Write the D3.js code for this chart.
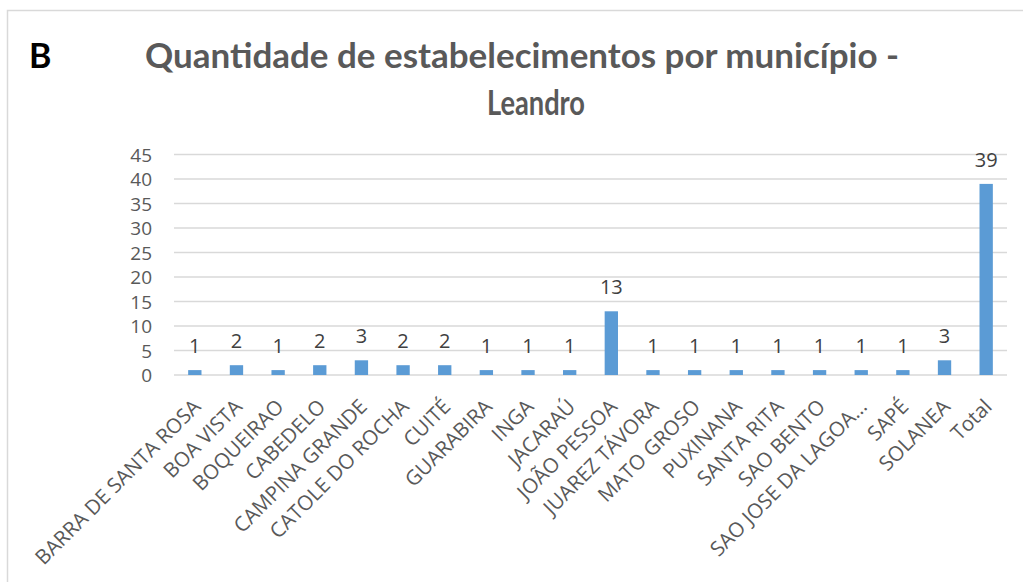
<!DOCTYPE html>
<html>
<head>
<meta charset="utf-8">
<script src="https://cdn.jsdelivr.net/npm/d3@7"></script>
<style>
  body { margin: 0; background: #fff; }
  svg { display: block; }
</style>
</head>
<body>
<svg id="chart" width="1023" height="582"></svg>
<script>
const categories = ["BARRA DE SANTA ROSA", "BOA VISTA", "BOQUEIRAO", "CABEDELO", "CAMPINA GRANDE",
  "CATOLE DO ROCHA", "CUITÉ", "GUARABIRA", "INGA", "JACARAÚ", "JOÃO PESSOA", "JUAREZ TÁVORA",
  "MATO GROSO", "PUXINANA", "SANTA RITA", "SAO BENTO", "SAO JOSE DA LAGOA…", "SAPÉ", "SOLANEA", "Total"];
const counts = [1, 2, 1, 2, 3, 2, 2, 1, 1, 1, 13, 1, 1, 1, 1, 1, 1, 1, 3, 39];
const yTicks = [0, 5, 10, 15, 20, 25, 30, 35, 40, 45];

const data = categories.map((c, i) => ({name: c, value: counts[i]}));

const svg    = d3.select("#chart"),
      margin = {top: 154.5, right: 16, bottom: 207, left: 174},
      width  = +svg.attr("width")  - margin.left - margin.right,
      height = +svg.attr("height") - margin.top  - margin.bottom,
      x      = d3.scaleBand().domain(categories).range([0, width]).paddingInner(0.68).paddingOuter(0.34),
      y      = d3.scaleLinear().domain([0, 45]).range([height, 0]),
      g      = svg.append("g").attr("transform", `translate(${margin.left},${margin.top})`);

// outer frame (runs off the right and bottom edges)
svg.append("rect")
  .attr("x", 7.5).attr("y", 10.5)
  .attr("width", 1040).attr("height", 600)
  .attr("fill", "none")
  .attr("stroke", "#d9d9d9")
  .attr("stroke-width", 1.5);

// gridlines
g.append("g")
  .selectAll("line")
  .data(yTicks)
  .enter().append("line")
    .attr("x1", 0).attr("x2", width)
    .attr("y1", d => y(d)).attr("y2", d => y(d))
    .attr("stroke", "#d9d9d9")
    .attr("stroke-width", 1.5);

// y axis labels
const yAxis = g.append("g")
  .call(d3.axisLeft(y).tickValues(yTicks).tickSize(0).tickPadding(22));
yAxis.select(".domain").remove();
yAxis.selectAll("text")
  .attr("dy", "0.36em")
  .style("font-family", "'Open Sans', sans-serif")
  .style("font-size", "19px")
  .attr("fill", "#595959");

// bars
g.selectAll(".bar")
  .data(data)
  .enter().append("rect")
    .attr("class", "bar")
    .attr("x", d => x(d.name))
    .attr("y", d => y(d.value))
    .attr("width", x.bandwidth())
    .attr("height", d => height - y(d.value))
    .attr("fill", "#5b9bd5");

// value labels
g.selectAll(".lbl")
  .data(data)
  .enter().append("text")
    .attr("class", "lbl")
    .attr("x", d => x(d.name) + x.bandwidth() / 2)
    .attr("y", d => y(d.value) - 17)
    .attr("text-anchor", "middle")
    .style("font-family", "'Open Sans', sans-serif")
    .style("font-size", "20px")
    .attr("fill", "#404040")
    .text(d => d.value);

// category labels
g.selectAll(".cat")
  .data(data)
  .enter().append("text")
    .attr("class", "cat")
    .attr("transform", d => `translate(${x(d.name) + x.bandwidth() / 2 + 7},${height + 33}) rotate(-45)`)
    .attr("text-anchor", "end")
    .style("font-family", "'Open Sans', sans-serif")
    .style("font-size", "20.5px")
    .attr("fill", "#595959")
    .text(d => d.name);

// panel letter and title
svg.append("text")
  .attr("x", 29).attr("y", 68)
  .style("font-family", "Lato, sans-serif")
  .style("font-weight", "bold")
  .style("font-size", "34px")
  .attr("fill", "#000")
  .text("B");

svg.append("text")
  .attr("x", 145).attr("y", 68)
  .attr("textLength", 754)
  .attr("lengthAdjust", "spacingAndGlyphs")
  .style("font-family", "Lato, sans-serif")
  .style("font-weight", "bold")
  .style("font-size", "35px")
  .attr("fill", "#595959")
  .text("Quantidade de estabelecimentos por município -");

svg.append("text")
  .attr("x", 487).attr("y", 115)
  .attr("textLength", 98)
  .attr("lengthAdjust", "spacingAndGlyphs")
  .style("font-family", "Lato, sans-serif")
  .style("font-weight", "bold")
  .style("font-size", "35px")
  .attr("fill", "#595959")
  .text("Leandro");
</script>
</body>
</html>
